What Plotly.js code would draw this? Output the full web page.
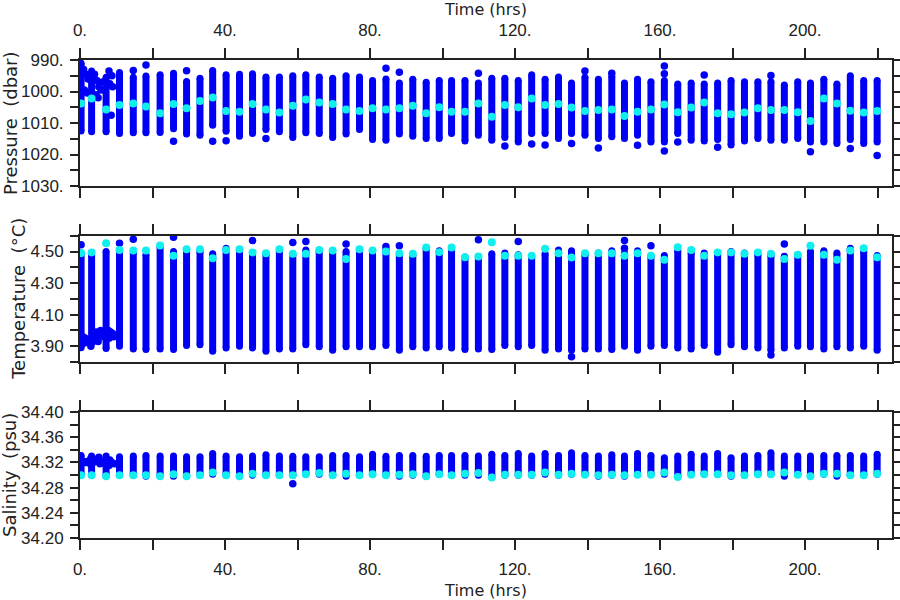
<!DOCTYPE html>
<html><head><meta charset="utf-8">
<script src="https://cdn.plot.ly/plotly-3.0.1.min.js"></script>
<style>html,body{margin:0;padding:0;background:#fff}</style>
</head><body><div id="chart" style="width:900px;height:600px"></div>
<script>
// ---- profile times (hrs) ----
const time = [0.3, 3.2, 7.2,
  10.9, 14.7, 18.2, 22.1, 25.8, 29.4, 33.1, 36.6, 40.3, 44.0, 47.6, 51.3, 55.0, 58.7, 62.3,
  66.0, 69.7, 73.4, 77.1, 80.7, 84.4, 88.1, 91.8, 95.5, 99.1, 102.5, 106.2, 109.9, 113.6,
  117.2, 120.9, 124.6, 128.3, 132.0, 135.6, 139.3, 143.0, 146.7, 150.2, 153.8, 157.5, 161.2,
  164.9, 168.6, 172.2, 175.9, 179.6, 183.3, 187.0, 190.6, 194.3, 198.0, 201.5, 205.2, 208.8,
  212.5, 216.2, 219.9];

// ---- Pressure (dbar) ----
const presTop = [991.0, 993.5, 995.5,
  994.0, 995.5, 995.1, 994.7, 994.2, 996.8, 995.8, 993.3, 994.7, 994.5,
  994.4, 995.4, 995.4, 995.0, 994.7, 995.4, 995.8, 995.0, 995.4, 996.5,
  996.0, 997.3, 996.1, 997.1, 996.5, 996.5, 996.5, 997.3, 995.8, 995.8,
  996.5, 994.7, 996.1, 995.4, 997.3, 995.5, 996.1, 995.2, 997.3, 996.1,
  996.9, 996.5, 997.6, 997.3, 997.6, 997.3, 996.5, 996.9, 996.9, 996.9,
  997.9, 996.9, 997.3, 996.1, 997.6, 995.0, 996.5, 996.5];
const presBot = [1012.5, 1012.8, 1012.8,
  1013.3, 1013.1, 1013.1, 1013.0, 1011.8, 1013.5, 1013.9, 1010.7, 1012.6, 1014.2,
  1013.3, 1012.1, 1012.8, 1014.6, 1013.1, 1013.3, 1014.6, 1013.5, 1012.1, 1015.2,
  1015.5, 1013.5, 1014.2, 1014.9, 1014.9, 1013.3, 1015.7, 1013.9, 1015.5, 1014.6,
  1016.0, 1013.3, 1013.3, 1014.9, 1013.3, 1013.9, 1014.9, 1014.4, 1014.9, 1013.9,
  1016.0, 1016.0, 1013.3, 1015.5, 1015.7, 1015.2, 1017.0, 1015.7, 1014.9, 1015.5,
  1015.5, 1014.9, 1016.0, 1016.0, 1016.5, 1015.2, 1016.5, 1016.0];
const presCyan = [1003.8, 1002.2, 1005.7,
  1004.3, 1003.8, 1004.8, 1006.9, 1004.0, 1005.3, 1003.0, 1001.9, 1006.2, 1006.4,
  1004.0, 1005.7, 1006.7, 1004.5, 1002.5, 1003.5, 1004.0, 1005.7, 1006.2, 1005.3,
  1005.7, 1005.3, 1004.5, 1006.9, 1005.0, 1006.4, 1006.4, 1003.8, 1008.0, 1004.3,
  1005.0, 1002.2, 1004.3, 1004.0, 1005.1, 1006.2, 1005.9, 1005.7, 1007.8, 1006.4,
  1005.7, 1004.1, 1006.6, 1005.1, 1003.5, 1006.9, 1007.2, 1006.7, 1005.3, 1005.9,
  1005.9, 1006.6, 1009.4, 1002.2, 1003.8, 1006.1, 1006.7, 1006.2];
const presExtraTime = [1.0, 1.6, 2.2, 1.2, 2.0, 4.0, 4.6, 5.2, 5.8, 5.0, 6.2, 8.0, 8.8, 8.2, 9.0, 8.6, 4.4,
  14.7, 18.2, 25.8, 29.4, 36.6, 40.3, 51.3, 84.4, 88.1, 109.9, 117.2, 124.6, 128.3, 135.6,
  139.3, 143.0, 146.7, 153.8, 161.2, 161.2, 161.2, 164.9, 172.2, 175.9, 190.6, 201.5, 212.5, 219.9];
const presExtraVal = [993.0, 994.5, 996.0, 999.5, 1000.5, 994.5, 996.5, 998.5, 999.5, 1002.0, 997.0, 993.5, 995.0, 997.5, 998.5, 1007.5, 1001.0,
  993.3, 991.6, 1015.8, 993.4, 1015.8, 1015.6, 1014.9, 992.6, 993.9, 994.2, 1017.3, 1016.7, 1017.0, 1016.5,
  993.5, 1017.9, 994.2, 1017.1, 991.9, 994.4, 1018.9, 1016.0, 994.8, 1017.7, 994.9, 1019.1, 1018.1, 1020.3];

// ---- Temperature (degC) ----
const tempTop = [4.49, 4.48, 4.50,
  4.50, 4.49, 4.48, 4.53, 4.50, 4.50, 4.50, 4.485, 4.52, 4.50,
  4.48, 4.48, 4.50, 4.48, 4.51, 4.50, 4.49, 4.50, 4.50, 4.49,
  4.515, 4.48, 4.475, 4.52, 4.505, 4.50, 4.465, 4.46, 4.485, 4.49,
  4.48, 4.465, 4.485, 4.51, 4.505, 4.48, 4.49, 4.505, 4.49, 4.505,
  4.47, 4.475, 4.505, 4.49, 4.49, 4.48, 4.50, 4.49, 4.48, 4.475,
  4.47, 4.48, 4.50, 4.505, 4.49, 4.52, 4.50, 4.475];
const tempBot = [3.89, 3.92, 3.885,
  3.90, 3.883, 3.879, 3.883, 3.879, 3.904, 3.91, 3.868, 3.889, 3.90,
  3.889, 3.868, 3.883, 3.883, 3.91, 3.896, 3.875, 3.896, 3.896, 3.896,
  3.904, 3.875, 3.896, 3.889, 3.896, 3.889, 3.879, 3.883, 3.879, 3.904,
  3.896, 3.904, 3.875, 3.883, 3.875, 3.883, 3.883, 3.879, 3.90, 3.875,
  3.90, 3.904, 3.889, 3.883, 3.904, 3.862, 3.91, 3.896, 3.889, 3.875,
  3.889, 3.90, 3.896, 3.883, 3.896, 3.889, 3.90, 3.875];
const tempCyan = [4.49, 4.494, 4.553,
  4.51, 4.506, 4.506, 4.538, 4.473, 4.515, 4.515, 4.458, 4.51, 4.515,
  4.494, 4.489, 4.515, 4.485, 4.485, 4.51, 4.506, 4.452, 4.515, 4.506,
  4.50, 4.489, 4.485, 4.525, 4.496, 4.525, 4.464, 4.468, 4.559, 4.473,
  4.473, 4.473, 4.517, 4.489, 4.462, 4.489, 4.489, 4.489, 4.473, 4.489,
  4.473, 4.447, 4.527, 4.51, 4.473, 4.494, 4.494, 4.485, 4.494, 4.485,
  4.452, 4.479, 4.536, 4.479, 4.447, 4.506, 4.521, 4.464];
const tempExtraTime = [0.3, 0.8, 1.5, 2.2, 2.8, 3.6, 4.2, 4.8, 5.4, 6.0, 6.5, 7.8, 8.4, 9.0, 9.3, 8.0, 1.2, 5.0, 3.0, 7.5, 4.5, 5.7,
  10.9, 14.7, 25.8, 47.6, 58.7, 62.3, 73.4, 84.4, 88.1, 109.9, 120.9, 135.6, 150.2, 150.2, 157.5, 190.6, 194.3];
const tempExtraVal = [4.542, 3.96, 3.95, 3.94, 3.92, 3.93, 3.97, 3.96, 3.97, 3.98, 3.96, 4.00, 3.99, 3.98, 3.96, 3.95, 3.92, 3.93, 3.90, 3.97, 3.99, 4.00,
  4.553, 4.578, 4.59, 4.569, 4.557, 4.563, 4.548, 4.532, 4.536, 4.574, 4.563, 3.833, 4.569, 4.52, 4.536, 3.845, 4.548];

// ---- Salinity (psu) ----
const salTop = [34.331, 34.330, 34.330,
  34.329, 34.330, 34.331, 34.330, 34.330, 34.329, 34.329, 34.334, 34.330, 34.329,
  34.330, 34.332, 34.330, 34.3296, 34.329, 34.329, 34.331, 34.331, 34.329, 34.333,
  34.3296, 34.331, 34.331, 34.3296, 34.331, 34.331, 34.331, 34.330, 34.333, 34.331,
  34.334, 34.330, 34.334, 34.331, 34.3354, 34.331, 34.330, 34.332, 34.330, 34.334,
  34.331, 34.3275, 34.330, 34.333, 34.330, 34.334, 34.3275, 34.330, 34.331, 34.3354,
  34.330, 34.330, 34.330, 34.331, 34.331, 34.331, 34.330, 34.333];
const salBot = [34.301, 34.301, 34.300,
  34.301, 34.301, 34.298, 34.2995, 34.298, 34.2995, 34.2995, 34.301, 34.2995, 34.2995,
  34.2995, 34.2995, 34.2995, 34.2995, 34.301, 34.301, 34.2995, 34.298, 34.301, 34.301,
  34.2995, 34.298, 34.2995, 34.298, 34.301, 34.301, 34.2995, 34.2995, 34.298, 34.2995,
  34.2995, 34.2995, 34.301, 34.2995, 34.301, 34.301, 34.298, 34.2995, 34.298, 34.301,
  34.301, 34.301, 34.298, 34.301, 34.301, 34.301, 34.298, 34.2995, 34.301, 34.301,
  34.298, 34.301, 34.2995, 34.301, 34.298, 34.2995, 34.301, 34.301];
const salCyan = [34.2995, 34.2995, 34.298,
  34.2995, 34.2995, 34.2995, 34.298, 34.301, 34.298, 34.2995, 34.304, 34.2995, 34.298,
  34.302, 34.2995, 34.2995, 34.2995, 34.301, 34.303, 34.2995, 34.302, 34.2995, 34.301,
  34.2995, 34.3005, 34.301, 34.298, 34.301, 34.2995, 34.302, 34.303, 34.296, 34.3005,
  34.3005, 34.3005, 34.304, 34.3005, 34.302, 34.3005, 34.2995, 34.3005, 34.2995, 34.3005,
  34.3005, 34.304, 34.297, 34.3005, 34.301, 34.301, 34.2995, 34.2995, 34.301, 34.301,
  34.304, 34.3005, 34.298, 34.302, 34.302, 34.2995, 34.2995, 34.302];
const salExtraTime = [0.8, 1.5, 2.2, 2.8, 3.6, 4.2, 4.8, 5.5, 6.2, 6.8, 7.6, 8.2, 8.8, 9.5, 3.0, 5.2, 8.0, 58.7];
const salExtraVal = [34.322, 34.320, 34.322, 34.318, 34.320, 34.324, 34.322, 34.318, 34.320, 34.322, 34.320, 34.324, 34.320, 34.318, 34.326, 34.328, 34.315, 34.286];

// ---- ticks ----
const xTickVals = [0, 20, 40, 60, 80, 100, 120, 140, 160, 180, 200, 220];
const xTickText = ['0.', '', '40.', '', '80.', '', '120.', '', '160.', '', '200.', ''];
const presTickVals = [990, 995, 1000, 1005, 1010, 1015, 1020, 1025, 1030];
const presTickText = ['990.', '', '1000.', '', '1010.', '', '1020.', '', '1030.'];
const tempTickVals = [3.8, 3.9, 4.0, 4.1, 4.2, 4.3, 4.4, 4.5, 4.6];
const tempTickText = ['', '3.90', '', '4.10', '', '4.30', '', '4.50', ''];
const salTickVals = [34.20, 34.22, 34.24, 34.26, 34.28, 34.30, 34.32, 34.34, 34.36, 34.38, 34.40];
const salTickText = ['34.20', '', '34.24', '', '34.28', '', '34.32', '', '34.36', '', '34.40'];

const BLUE = '#0000f4', CYAN = '#10eeee', INK = '#222222';
const FONT = 'DejaVu Sans';
const TICKFONT = '"Liberation Sans Narrow", "Arial Narrow", "Liberation Sans", sans-serif';

function panelTraces(xa, ya, top, bot, cyan, exT, exV) {
  const sx = [], sy = [], ex = [], ey = [];
  time.forEach((t, i) => {
    sx.push(t, t, null); sy.push(top[i], bot[i], null);
    ex.push(t, t); ey.push(top[i], bot[i]);
  });
  return [
    {x: sx, y: sy, xaxis: xa, yaxis: ya, mode: 'lines', line: {color: BLUE, width: 7}, hoverinfo: 'skip', showlegend: false},
    {x: ex, y: ey, xaxis: xa, yaxis: ya, mode: 'markers', marker: {color: BLUE, size: 7}, hoverinfo: 'skip', showlegend: false},
    {x: exT, y: exV, xaxis: xa, yaxis: ya, mode: 'markers', marker: {color: BLUE, size: 7.5}, hoverinfo: 'skip', showlegend: false},
    {x: time, y: cyan, xaxis: xa, yaxis: ya, mode: 'markers', marker: {color: CYAN, size: 8}, hoverinfo: 'skip', showlegend: false}
  ];
}

const data = [].concat(
  panelTraces('x3', 'y3', presTop, presBot, presCyan, presExtraTime, presExtraVal),
  panelTraces('x2', 'y2', tempTop, tempBot, tempCyan, tempExtraTime, tempExtraVal),
  panelTraces('x', 'y', salTop, salBot, salCyan, salExtraTime, salExtraVal)
);

const tickFont = {family: TICKFONT, size: 17, color: INK};
function xAxis(anchor, extra) {
  return Object.assign({
    anchor: anchor, domain: [0, 1], range: [0, 224], tickvals: xTickVals, ticktext: xTickText,
    ticks: 'outside', ticklen: 10, tickwidth: 2, tickcolor: INK, showline: true, linewidth: 2, linecolor: INK,
    mirror: 'ticks', showgrid: false, zeroline: false, tickfont: tickFont, ticklabelstandoff: 5
  }, extra);
}
function yAxis(anchor, domain, range, vals, text) {
  return {
    anchor: anchor, domain: domain, range: range, tickvals: vals, ticktext: text,
    ticks: 'outside', ticklen: 8, tickwidth: 2, tickcolor: INK, showline: true, linewidth: 2, linecolor: INK,
    mirror: 'ticks', showgrid: false, zeroline: false, tickfont: tickFont, ticklabelstandoff: 3
  };
}

const PLOT_L = 80, PLOT_W = 812;
function yTitle(text, px, yMid) {
  return {text: text, xref: 'paper', yref: 'paper', x: (px - PLOT_L) / PLOT_W, y: yMid,
    xanchor: 'center', yanchor: 'middle', textangle: -90, showarrow: false,
    font: {family: FONT, size: 18, color: INK}};
}

const layout = {
  width: 900, height: 600, margin: {l: 80, r: 8, t: 60, b: 62},
  paper_bgcolor: '#ffffff', plot_bgcolor: '#ffffff', showlegend: false,
  font: {family: FONT, color: INK},
  xaxis: xAxis('y', {title: {text: 'Time (hrs)', font: {family: FONT, size: 16, color: INK}, standoff: 6}}),
  xaxis2: xAxis('y2', {matches: 'x', showticklabels: false}),
  xaxis3: xAxis('y3', {matches: 'x', side: 'top', title: {text: 'Time (hrs)', font: {family: FONT, size: 16, color: INK}, standoff: 6}}),
  yaxis: yAxis('x', [0, 0.2636], [34.20, 34.40], salTickVals, salTickText),
  yaxis2: yAxis('x2', [0.3682, 0.6324], [3.80, 4.60], tempTickVals, tempTickText),
  yaxis3: yAxis('x3', [0.7364, 1], [1030, 990], presTickVals, presTickText),
  annotations: [
    yTitle('Pressure  (dbar)', 10, 0.868),
    yTitle('Temperature  (°C)', 19, 0.5003),
    yTitle('Salinity  (psu)', 10, 0.1318)
  ]
};

Plotly.newPlot('chart', data, layout, {staticPlot: true, displayModeBar: false});
</script></body></html>
